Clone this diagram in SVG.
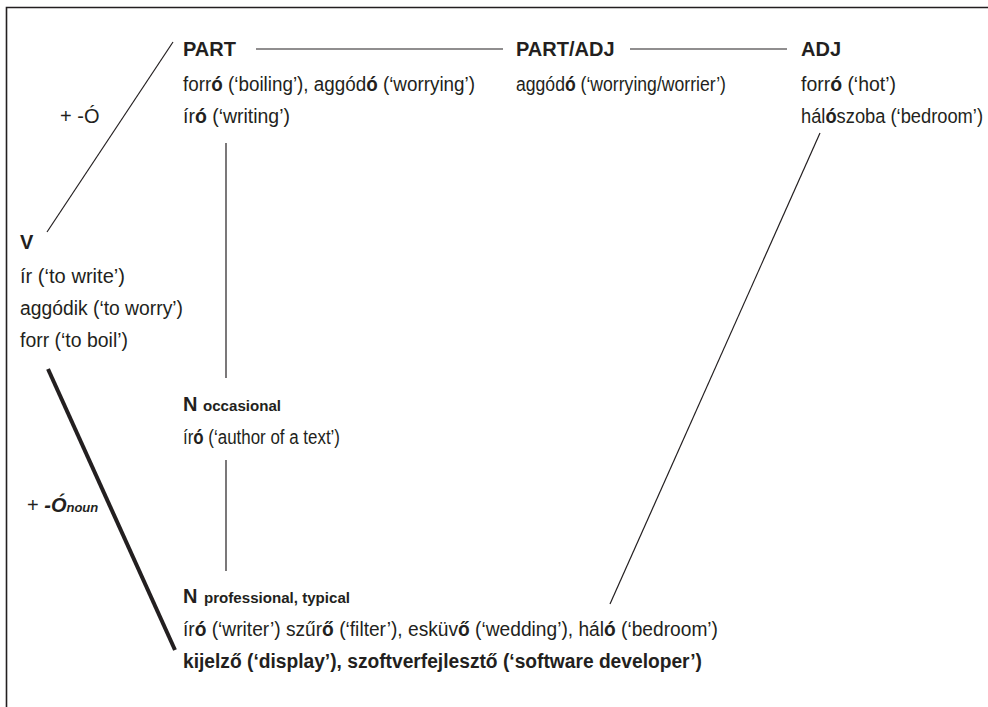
<svg xmlns="http://www.w3.org/2000/svg" width="988" height="707" viewBox="0 0 988 707">
<style>
text{font-family:"Liberation Sans Narrow","Liberation Sans",Arial,sans-serif;fill:#231f20;font-size:20px}
.h{font-weight:bold;font-size:20px;font-family:"Liberation Sans",Arial,sans-serif}
.b{font-weight:bold}
.s{font-weight:bold;font-size:15px}
.c{stroke:#231f20;stroke-width:1.2;fill:none}
.k{stroke:#231f20;stroke-width:4;fill:none}
</style>
<rect width="988" height="707" fill="#fff"/>
<path d="M6.5,707 V7.5 H988" stroke="#231f20" stroke-width="1.6" fill="none"/>
<g id="connectors">
<line class="c" x1="256" y1="49" x2="503" y2="49"/>
<line class="c" x1="630" y1="49" x2="787" y2="49"/>
<line class="c" x1="47" y1="232" x2="173" y2="42"/>
<line class="c" x1="226" y1="143" x2="226" y2="378"/>
<line class="c" x1="226" y1="460" x2="226" y2="571"/>
<line class="k" x1="48" y1="369" x2="175" y2="650"/>
<line class="c" x1="820" y1="133" x2="610" y2="604"/>
</g>
<g id="part">
<text class="h" x="183" y="56">PART</text>
<text x="183" y="91" textLength="292" lengthAdjust="spacingAndGlyphs">forr<tspan class="b">ó</tspan> (‘boiling’), aggód<tspan class="b">ó</tspan> (‘worrying’)</text>
<text x="183" y="123" textLength="107" lengthAdjust="spacingAndGlyphs">ír<tspan class="b">ó</tspan> (‘writing’)</text>
</g>
<g id="partadj">
<text class="h" x="516" y="56">PART/ADJ</text>
<text x="516" y="91" textLength="210" lengthAdjust="spacingAndGlyphs">aggód<tspan class="b">ó</tspan> (‘worrying/worrier’)</text>
</g>
<g id="adj">
<text class="h" x="801" y="56">ADJ</text>
<text x="801" y="91" textLength="95" lengthAdjust="spacingAndGlyphs">forr<tspan class="b">ó</tspan> (‘hot’)</text>
<text x="801" y="123" textLength="182" lengthAdjust="spacingAndGlyphs">hál<tspan class="b">ó</tspan>szoba (‘bedroom’)</text>
</g>
<g id="label-o">
<text x="60" y="123">+ -Ó</text>
</g>
<g id="v">
<text class="h" x="20" y="249">V</text>
<text x="20" y="283" textLength="105" lengthAdjust="spacingAndGlyphs">ír (‘to write’)</text>
<text x="20" y="315" textLength="163" lengthAdjust="spacingAndGlyphs">aggódik (‘to worry’)</text>
<text x="20" y="347" textLength="108" lengthAdjust="spacingAndGlyphs">forr (‘to boil’)</text>
</g>
<g id="n-occasional">
<text class="h" x="183" y="411">N</text>
<text class="s" x="203" y="411" textLength="78" lengthAdjust="spacingAndGlyphs">occasional</text>
<text x="183" y="444" textLength="157" lengthAdjust="spacingAndGlyphs">ír<tspan class="b">ó</tspan> (‘author of a text’)</text>
</g>
<g id="label-onoun">
<text x="27" y="512">+ <tspan font-weight="bold" font-style="italic">-Ó</tspan><tspan font-weight="bold" font-style="italic" font-size="13px">noun</tspan></text>
</g>
<g id="n-professional">
<text class="h" x="183" y="603">N</text>
<text class="s" x="204" y="603" textLength="146" lengthAdjust="spacingAndGlyphs">professional, typical</text>
<text x="183" y="636" textLength="535" lengthAdjust="spacingAndGlyphs">ír<tspan class="b">ó</tspan> (‘writer’) szűr<tspan class="b">ő</tspan> (‘filter’), esküv<tspan class="b">ő</tspan> (‘wedding’), hál<tspan class="b">ó</tspan> (‘bedroom’)</text>
<text class="b" x="183" y="668" textLength="519" lengthAdjust="spacingAndGlyphs">kijelző (‘display’), szoftverfejlesztő (‘software developer’)</text>
</g>
</svg>
